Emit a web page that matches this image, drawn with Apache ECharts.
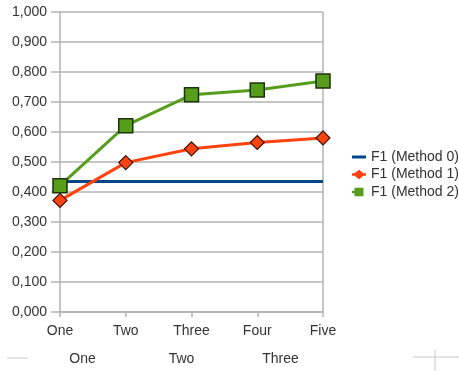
<!DOCTYPE html>
<html><head><meta charset="utf-8">
<script src="https://cdn.jsdelivr.net/npm/echarts@6/dist/echarts.min.js"></script>
<style>html,body{margin:0;padding:0;background:#fff}#c{width:459px;height:371px}</style>
</head><body><div id="c"></div>
<script>
var categories = ['One', 'Two', 'Three', 'Four', 'Five'];
var bottomCategories = ['One', 'Two', 'Three'];
var seriesNames = ['F1 (Method 0)', 'F1 (Method 1)', 'F1 (Method 2)'];
var method0 = [0.435, 0.435, 0.435, 0.435, 0.435];
var method1 = [0.372, 0.498, 0.544, 0.565, 0.580];
var method2 = [0.421, 0.621, 0.724, 0.740, 0.770];

var colors = ['#004586', '#ff420e', '#579d1c'];
var icons = [
  'path://M0,0 M14,10 M0,3.5 L14,3.5 L14,6.5 L0,6.5 Z',
  'path://M0,0 M14,10 M0,3.8 L2.5,3.8 L7,0.3 L11.5,3.8 L14,3.8 L14,6.2 L11.5,6.2 L7,9.7 L2.5,6.2 L0,6.2 Z',
  'path://M0,0 M14,10 M0,3.8 L2.5,3.8 L2.5,0.8 L11.5,0.8 L11.5,9.2 L2.5,9.2 L2.5,6.2 L0,6.2 Z'
];

var chart = echarts.init(document.getElementById('c'), null, {renderer: 'canvas'});
var font = 'Liberation Sans, Arial, sans-serif';
var gray = '#b3b3b3';
chart.setOption({
  animation: false,
  textStyle: {fontFamily: font},
  grid: [
    {left: 60, right: 136, top: 12, bottom: 59},
    {left: 33, width: 297, top: 346, height: 1}
  ],
  legend: {
    orient: 'vertical', left: 347, top: 145, itemGap: 3.5, itemWidth: 14, itemHeight: 10,
    textStyle: {fontSize: 14, color: '#333', fontFamily: font},
    data: seriesNames.map(function (n, i) {
      return {name: n, icon: icons[i], itemStyle: {color: colors[i], borderWidth: 0}};
    })
  },
  xAxis: [
    {type: 'category', data: categories, boundaryGap: false, gridIndex: 0,
     axisLine: {lineStyle: {color: gray, width: 1.5}},
     axisTick: {show: true, length: 5, alignWithLabel: true, lineStyle: {color: gray, width: 1.5}},
     axisLabel: {color: '#333', fontSize: 14, margin: 12, fontFamily: font},
     splitLine: {show: false}},
    {type: 'category', data: bottomCategories, boundaryGap: true, gridIndex: 1,
     axisLine: {show: false}, axisTick: {show: false},
     axisLabel: {color: '#333', fontSize: 14, margin: 5, fontFamily: font}}
  ],
  yAxis: [
    {type: 'value', min: 0, max: 1, interval: 0.1, gridIndex: 0,
     axisLine: {show: true, lineStyle: {color: gray, width: 1.5}},
     axisTick: {show: true, length: 9, lineStyle: {color: gray, width: 1.5}},
     axisLabel: {color: '#333', fontSize: 14, margin: 13, fontFamily: font,
       formatter: function (v) { return v.toFixed(3).replace('.', ','); }},
     splitLine: {show: true, lineStyle: {color: gray, width: 1.5}}},
    {type: 'value', gridIndex: 1, show: false}
  ],
  graphic: [
    {type: 'line', shape: {x1: 323, y1: 12, x2: 323, y2: 312}, style: {stroke: gray, lineWidth: 1.5}, z: 1},
    {type: 'line', shape: {x1: 7, y1: 358, x2: 28, y2: 358}, style: {stroke: '#c8c8c8', lineWidth: 1}},
    {type: 'line', shape: {x1: 413, y1: 357, x2: 459, y2: 357}, style: {stroke: '#c8c8c8', lineWidth: 1}},
    {type: 'line', shape: {x1: 435, y1: 350, x2: 435, y2: 371}, style: {stroke: '#c8c8c8', lineWidth: 1}}
  ],
  series: [
    {name: seriesNames[0], type: 'line', data: method0, symbol: 'none', xAxisIndex: 0, yAxisIndex: 0,
     lineStyle: {color: colors[0], width: 3}, itemStyle: {color: colors[0]}, z: 2},
    {name: seriesNames[1], type: 'line', data: method1, symbol: 'diamond', symbolSize: 14, xAxisIndex: 0, yAxisIndex: 0,
     lineStyle: {color: colors[1], width: 3},
     itemStyle: {color: colors[1], borderColor: '#3a1205', borderWidth: 1.2}, z: 3},
    {name: seriesNames[2], type: 'line', data: method2, symbol: 'rect', symbolSize: 14, xAxisIndex: 0, yAxisIndex: 0,
     lineStyle: {color: colors[2], width: 3},
     itemStyle: {color: colors[2], borderColor: '#1c3309', borderWidth: 1.5}, z: 4}
  ]
});
</script></body></html>
